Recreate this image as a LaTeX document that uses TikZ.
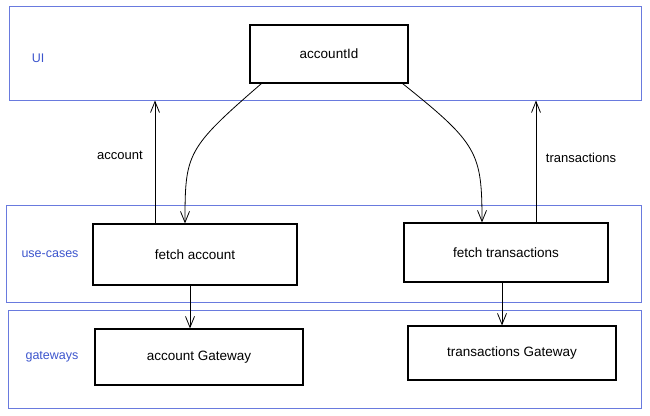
\documentclass[tikz,border=0pt]{standalone}
\usepackage{fontspec}
\setmainfont{Liberation Sans}
\usepackage{tikz}
\usetikzlibrary{arrows.meta}
\definecolor{layerblue}{RGB}{105,122,222}
\definecolor{labelblue}{RGB}{60,85,205}

\tikzset{
  layer/.style={draw=layerblue, line width=1pt, anchor=center},
  box/.style={draw=black, line width=1.1pt, fill=white, font=\fontsize{13.5}{16}\selectfont},
  layername/.style={text=labelblue, font=\fontsize{12.5}{15}\selectfont},
  flowname/.style={font=\fontsize{13}{15}\selectfont},
  arr/.style={line width=0.8pt, -{Straight Barb[length=11pt,width=9pt]}}
}

\begin{document}
\begin{tikzpicture}[x=1pt, y=-1pt]

    \useasboundingbox (0,0) rectangle (650,415);

    %Layers
    \node[layer, minimum width=632pt, minimum height=94pt] (ui) at (325,53) {}; %UI
    \node[layer, minimum width=635pt, minimum height=97pt] (uc) at (323.5,253.5) {}; %Use-cases
    \node[layer, minimum width=633pt, minimum height=98pt] (gw) at (324.5,359) {}; %Gateways

    %Layer names
    \node[layername] (uiname) at (38,58) {UI};
    \node[layername] (ucname) at (50,254) {use-cases};
    \node[layername] (gwname) at (52,357) {gateways};

    %Boxes
    \node[box, minimum width=158pt, minimum height=58pt] (accountId) at (329,54) {accountId};
    \node[box, minimum width=204pt, minimum height=61pt] (fetchAcc) at (195,254.5) {fetch account};
    \node[box, minimum width=204pt, minimum height=59pt] (fetchTx) at (506,252.5) {fetch transactions};
    \node[box, minimum width=208pt, minimum height=56pt] (accGw) at (199,357) {account Gateway};
    \node[box, minimum width=208pt, minimum height=54pt] (txGw) at (512,353) {transactions Gateway};

    %Results going up
    \draw[arr] ([xshift=-40pt]fetchAcc.north) -- ([xshift=-40pt]fetchAcc.north |- ui.south); %account
    \draw[arr] ([xshift=30pt]fetchTx.north) -- ([xshift=30pt]fetchTx.north |- ui.south); %transactions
    \node[flowname] (accname) at (120,155) {account};
    \node[flowname] (txname) at (581,158) {transactions};

    %Id going down
    \draw[arr] ([xshift=12pt]accountId.south west) .. controls +(-75,65) and +(0,-70) .. ([xshift=-10pt]fetchAcc.north); %Left
    \draw[arr] ([xshift=-6pt]accountId.south east) .. controls +(75,60) and +(0,-70) .. ([xshift=-24pt]fetchTx.north); %Right

    %Use-cases to gateways
    \draw[arr] ([xshift=-5pt]fetchAcc.south) -- ([xshift=-5pt]fetchAcc.south |- accGw.north); %Account
    \draw[arr] ([xshift=-4pt]fetchTx.south) -- ([xshift=-4pt]fetchTx.south |- txGw.north); %Transactions

\end{tikzpicture}
\end{document}
